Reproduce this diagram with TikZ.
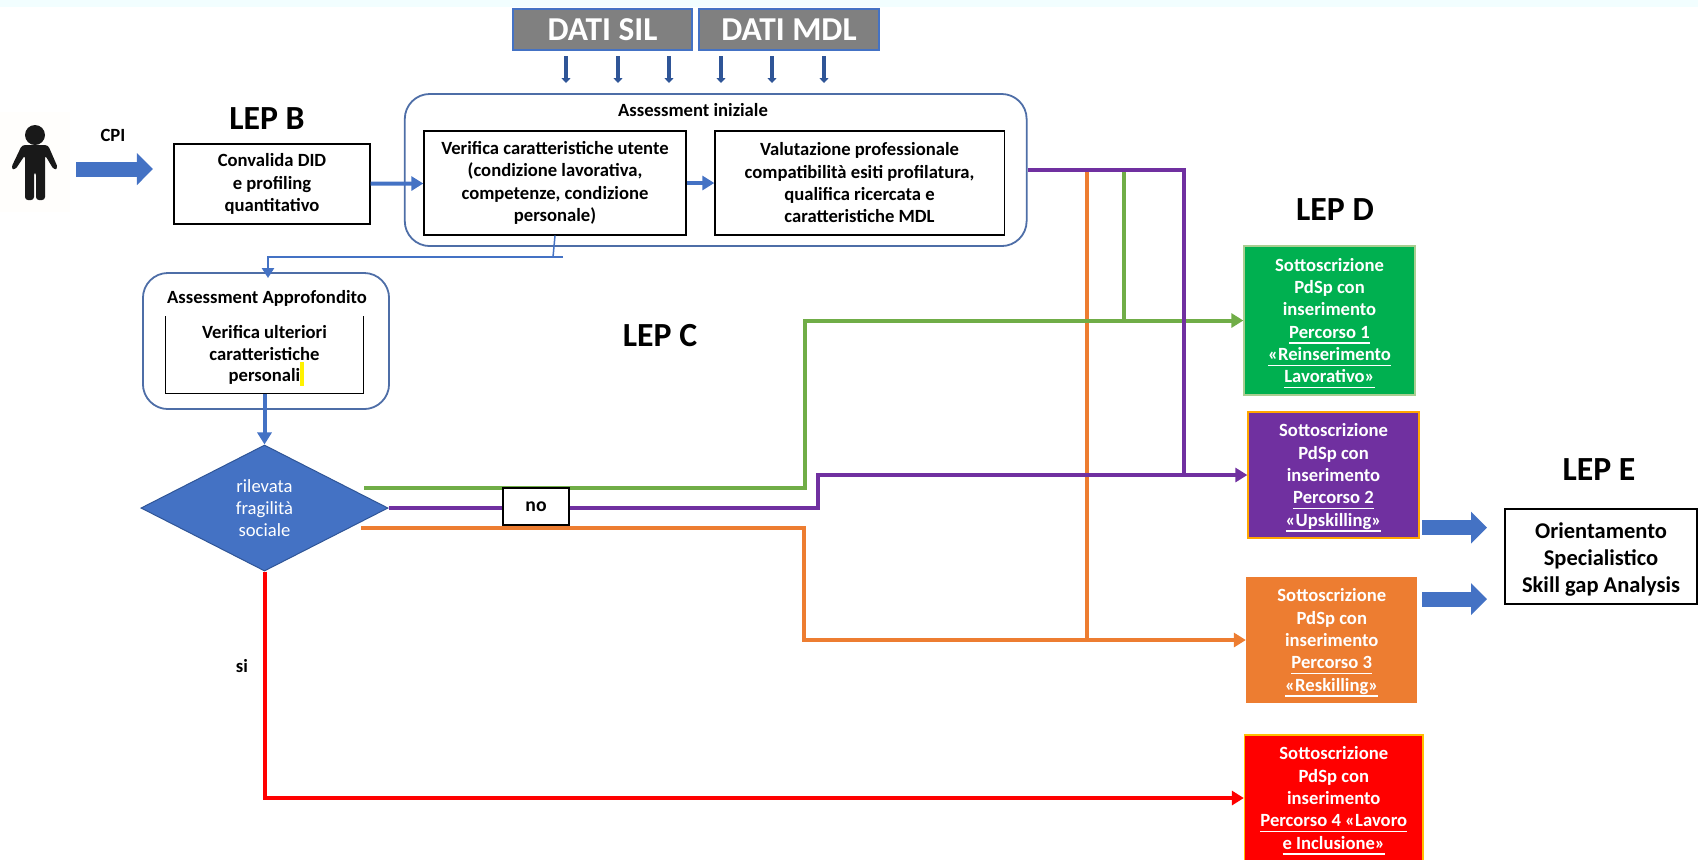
\documentclass[tikz,border=0pt]{standalone}
\usepackage{xcolor}
\usepackage{fontspec}
\usetikzlibrary{arrows.meta,shapes.geometric}
\setmainfont{Carlito}
\definecolor{lineblue}{HTML}{4472C4}
\definecolor{darkblue}{HTML}{2F5597}
\definecolor{linegreen}{HTML}{70AD47}
\definecolor{boxgreen}{HTML}{00B050}
\definecolor{linepurple}{HTML}{7030A0}
\definecolor{lineorange}{HTML}{ED7D31}
\newcommand{\ulpath}[1]{\underline{\smash{#1}}}
\newcommand{\toppad}{\rule{0pt}{5.7pt}}
\tikzset{
	plainbox/.style={draw=black,line width=.012cm,align=center,inner sep=0pt,font=\fontsize{5.3}{6.35}\selectfont\bfseries},
	roundbox/.style={draw=darkblue!85,line width=.018cm,rounded corners=.25cm,inner sep=0pt},
	plainlabel/.style={inner sep=0pt,align=center,font=\fontsize{5.3}{6.35}\selectfont\bfseries},
	lepname/.style={inner sep=0pt,font=\fontsize{9.6}{11}\selectfont\bfseries},
	datibox/.style={draw=lineblue,line width=.015cm,fill=black!50,text=white,inner sep=0pt,font=\fontsize{9.5}{11}\selectfont\bfseries,minimum height=.41cm},
	percorso/.style={line width=.012cm,text=white,align=center,inner sep=0pt,font=\fontsize{5.3}{6.35}\selectfont\bfseries},
	colline/.style={line width=.04cm},
	colarrow/.style={line width=.04cm,-{Triangle[length=.12cm,width=.14cm]}},
	bluearrow/.style={draw=lineblue,line width=.04cm,-{Triangle[length=.12cm,width=.14cm]}},
	fatarrow/.style={line width=.15cm,-{Triangle[length=.16cm,width=.31cm]}},
}
\begin{document}
\begin{tikzpicture}[x=.01cm,y=-.01cm]
	\useasboundingbox (0,0) rectangle (1698,859);
	\fill[blue!5!cyan!5] (0,0) rectangle (1698,7);
	\fill[orange!1] (0,112) rectangle (70,212);
	\fill[black!90] (35,135) circle (10);
	\fill[black!90,rounded corners=.03cm] (22,145) -- (48,145) -- (58,168) -- (54,170) -- (45,155) -- (45,200) -- (36,200) -- (36,172) -- (34,172) -- (34,200) -- (25,200) -- (25,155) -- (15,170) -- (11,168) -- cycle;

	\node[datibox,minimum width=1.79cm] (sil) at (602.5,29.5) {DATI SIL};
	\node[datibox,minimum width=1.795cm] (mdl) at (789,29.5) {DATI MDL};
	\foreach \p [count=\i from 0] in {566,618,669,721,772,824} {
		\coordinate (dtop\i) at (\p,56);
		\coordinate (dend\i) at (\p,83);
		\draw[darkblue,line width=.035cm,-{Triangle[length=.05cm,width=.09cm]}] (dtop\i) -- (dend\i);
	}

	\node[lepname] (lepb) at (267,119) {LEP B};
	\node[lepname] (lepc) at (660,336) {LEP C};
	\node[lepname] (lepd) at (1335,210) {LEP D};
	\node[lepname] (lepe) at (1599,469.5) {LEP E};

	\node[plainlabel] (cpi) at (113,135) {CPI};
	\coordinate (fatstart) at (76,169);
	\coordinate (fatend) at (153,169);
	\draw[fatarrow,lineblue] (fatstart) -- (fatend);

	\node[plainbox,minimum width=1.96cm,minimum height=.8cm] (convalida) at (272,184) {Convalida DID\\e profiling\\quantitativo};
	\node[roundbox,minimum width=6.215cm,minimum height=1.52cm] (iniziale) at (715.7,170) {};
	\node[plainlabel] (inilabel) at (693,110) {Assessment iniziale};
	\node[plainbox,minimum width=2.62cm,minimum height=1.04cm] (verifica) at (555,183) {Verifica caratteristiche utente\\(condizione lavorativa,\\competenze, condizione\\personale)};
	\node[plainbox,minimum width=2.89cm,minimum height=1.04cm] (valutazione) at (859.5,183) {Valutazione professionale\\compatibilità esiti profilatura,\\qualifica ricercata e\\caratteristiche MDL};
	\draw[bluearrow] (convalida) -- (verifica);
	\draw[bluearrow] (verifica) -- (valutazione);

	\node[roundbox,minimum width=2.46cm,minimum height=1.36cm] (approfondito) at (266,341) {};
	\node[plainlabel] (applabel) at (267,298) {Assessment Approfondito};
	\node[inner sep=0pt,fill=yellow,minimum width=.045cm,minimum height=.24cm] (marker) at (302.2,374) {};
	\node[plainlabel,font=\fontsize{5.3}{6.2}\selectfont\bfseries,minimum width=1.96cm,minimum height=.76cm] (ulteriori) at (264.5,355) {Verifica ulteriori\\caratteristiche\\personali};
	\draw[line width=.012cm] (ulteriori.north west) -- (ulteriori.south west) -- (ulteriori.south east) -- (ulteriori.north east);

	\coordinate (vdrop) at (553,257);
	\coordinate (vtail) at (563,257);
	\coordinate (atop) at (268,278);
	\draw[lineblue,line width=.015cm] (verifica.south) -- (vdrop);
	\draw[lineblue,line width=.025cm,-{Triangle[length=.1cm,width=.12cm]}] (vtail) -| (atop);

	\node[diamond,draw=darkblue,line width=.01cm,fill=lineblue,text=white,aspect=1.96,inner sep=0pt,minimum width=2.47cm,minimum height=1.26cm,align=center,font=\fontsize{5.3}{6.35}\selectfont] (fragilita) at (264.5,508) {rilevata\\fragilità\\sociale};
	\draw[bluearrow] (ulteriori.south) -- (fragilita.north);

	\node[percorso,fill=boxgreen,draw=linegreen!60,minimum width=1.71cm,minimum height=1.49cm] (percorso1) at (1329.5,320.5) {\toppad Sottoscrizione\\PdSp con\\inserimento\\\ulpath{Percorso 1}\\\ulpath{«Reinserimento}\\\ulpath{Lavorativo»}};
	\node[percorso,fill=linepurple,draw=orange!70!yellow,minimum width=1.71cm,minimum height=1.26cm] (percorso2) at (1333.5,475) {\toppad Sottoscrizione\\PdSp con\\inserimento\\\ulpath{Percorso 2}\\\ulpath{«Upskilling»}};
	\node[percorso,fill=lineorange,minimum width=1.705cm,minimum height=1.26cm] (percorso3) at (1331.75,640) {\toppad Sottoscrizione\\PdSp con\\inserimento\\\ulpath{Percorso 3}\\\ulpath{«Reskilling»}};
	\node[percorso,fill=red,draw=orange!50!yellow,minimum width=1.785cm,minimum height=1.26cm] (percorso4) at (1333.75,798) {\toppad Sottoscrizione\\PdSp con\\inserimento\\\ulpath{Percorso 4 «Lavoro}\\\ulpath{e Inclusione»}};

	\coordinate (ostart) at (361,528);
	\coordinate (oturn) at (804,528);
	\coordinate (otop) at (1087,170);
	\coordinate (ojoin) at (1087,640);
	\coordinate (gstart) at (364,488);
	\coordinate (gturn) at (805,488);
	\coordinate (gtop) at (1123.5,170);
	\coordinate (gjoin) at (1123.5,320.5);
	\coordinate (pturn) at (818,508);
	\coordinate (pjoin) at (1184,475);

	\draw[colline,lineorange] (otop) -- (ojoin);
	\draw[colarrow,lineorange] (ostart) -- (oturn) |- (percorso3.west);
	\draw[colline,linegreen] (gtop) -- (gjoin);
	\draw[colarrow,linegreen] (gstart) -- (gturn) |- (percorso1.west);
	\draw[colline,linepurple] (iniziale.east) -| (pjoin);
	\draw[colarrow,linepurple] (fragilita.east) -- (pturn) |- (percorso2.west);
	\draw[colarrow,red] (fragilita.south) |- (percorso4.west);

	\node[plainbox,fill=white,minimum width=.66cm,minimum height=.37cm,font=\fontsize{5.6}{7}\selectfont\bfseries] (no) at (536,506.5) {no};
	\node[plainlabel] (si) at (242,666) {si};

	\node[plainbox,fill=white,minimum width=1.92cm,minimum height=.95cm,font=\fontsize{6.4}{7.7}\selectfont\bfseries] (orientamento) at (1601,556.5) {\rule{0pt}{6pt}Orientamento\\Specialistico\\Skill gap Analysis};
	\coordinate (ustart) at (1422,527.5);
	\coordinate (uend) at (1487,527.5);
	\coordinate (rstart) at (1422,599);
	\coordinate (rend) at (1487,599);
	\draw[fatarrow,lineblue] (ustart) -- (uend);
	\draw[fatarrow,lineblue] (rstart) -- (rend);
\end{tikzpicture}
\end{document}
